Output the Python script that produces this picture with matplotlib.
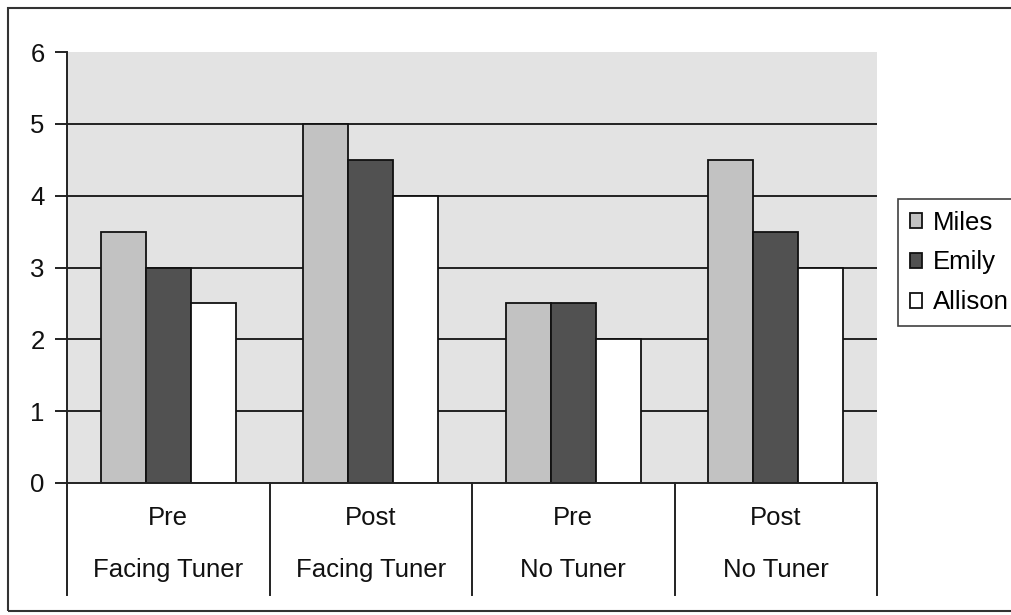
import matplotlib
matplotlib.use("Agg")
import matplotlib.pyplot as plt
from matplotlib.patches import Rectangle
from matplotlib.lines import Line2D
import numpy as np

plt.rcParams["font.family"] = ["Liberation Sans", "DejaVu Sans"]

# Conditions (two-line category labels) and ratings per student
conditions_top = ["Pre", "Post", "Pre", "Post"]
conditions_bottom = ["Facing Tuner", "Facing Tuner", "No Tuner", "No Tuner"]
students = ["Miles", "Emily", "Allison"]
miles = [3.5, 5.0, 2.5, 4.5]
emily = [3.0, 4.5, 2.5, 3.5]
allison = [2.5, 4.0, 2.0, 3.0]
y_ticks = [0, 1, 2, 3, 4, 5, 6]

series = [miles, emily, allison]
colors = ["#c2c2c2", "#515151", "#ffffff"]

W, H = 1011, 615
fig = plt.figure(figsize=(W / 100, H / 100), dpi=100)
fig.patch.set_facecolor("white")

# Plot area in pixel terms
L, R, T, B = 67, 877, 52, 483
ax = fig.add_axes([L / W, 1 - B / H, (R - L) / W, (B - T) / H])
ax.set_facecolor("#e3e3e3")
ax.set_xlim(0, len(conditions_top))
ax.set_ylim(0, 6)

for side in ["top", "right", "bottom"]:
    ax.spines[side].set_visible(False)
ax.spines["left"].set_linewidth(1.4)
ax.spines["left"].set_color("#222222")

# Horizontal gridlines
for yv in y_ticks[1:-1]:
    ax.axhline(yv, color="#222222", lw=1.4, zorder=1)

# Clustered bars
n = len(series)
bw = 1.0 / (n + 1.5)
x = np.arange(len(conditions_top)) + 0.5
handles = []
for k, (vals, c) in enumerate(zip(series, colors)):
    off = (k - (n - 1) / 2) * bw
    bars = ax.bar(x + off, vals, width=bw, color=c, edgecolor="#111111",
                  linewidth=1.3, zorder=3, label=students[k])
    handles.append(bars)

# Axis line at zero and category dividers
ax.axhline(0, color="#222222", lw=1.4, zorder=4, clip_on=False)
div_len = 112 / (B - T)
for i in range(len(conditions_top) + 1):
    ax.add_line(Line2D([i, i], [0, -div_len], transform=ax.get_xaxis_transform(),
                       color="#222222", lw=1.4, clip_on=False))

# Category labels (two lines each)
for i, (t, b) in enumerate(zip(conditions_top, conditions_bottom)):
    ax.text(i + 0.5, -35 / (B - T), t, transform=ax.get_xaxis_transform(),
            ha="center", va="center", fontsize=18.5, color="#111111")
    ax.text(i + 0.5, -87 / (B - T), b, transform=ax.get_xaxis_transform(),
            ha="center", va="center", fontsize=18.5, color="#111111")

ax.set_xticks([])
ax.set_yticks(y_ticks)
ax.set_yticklabels([str(v) for v in y_ticks])
ax.tick_params(axis="y", length=9, width=1.4, color="#222222", labelsize=18.5,
               pad=7, labelcolor="#111111")

# Legend
leg = fig.legend(handles=handles, labels=students, loc="upper left",
                 bbox_to_anchor=(898 / W, 1 - 199 / H), fontsize=18.5,
                 frameon=True, fancybox=False, handlelength=0.5,
                 handleheight=0.5, handletextpad=0.4, labelspacing=0.62,
                 borderpad=0.45, borderaxespad=0)
leg.get_frame().set_edgecolor("#111111")
leg.get_frame().set_linewidth(1.2)

# Outer chart frame
fig.patches.append(Rectangle((8 / W, 1 - 611 / H), (1030 - 8) / W, (611 - 8) / H,
                             transform=fig.transFigure, fill=False,
                             edgecolor="#333333", lw=1.5))

fig.savefig("out.png", dpi=100)
